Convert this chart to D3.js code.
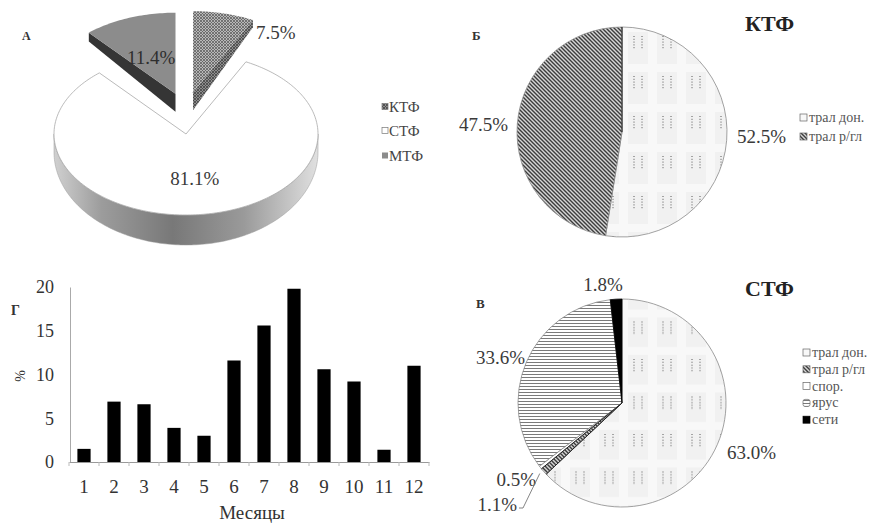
<!DOCTYPE html>
<html><head><meta charset="utf-8">
<script src="https://cdn.jsdelivr.net/npm/d3@7"></script>
<style>
body{margin:0;background:#fff}
svg{display:block}
text{font-family:"Liberation Serif","Times New Roman",serif}
</style>
</head><body>
<svg id="c" width="883" height="523"></svg>
<script>
// ---------- DATA ----------
const fleetNames = ["КТФ", "СТФ", "МТФ"];
const fleetShares = [7.5, 81.1, 11.4];
const ktfGears = ["трал дон.", "трал р/гл"];
const ktfShares = [52.5, 47.5];
const stfGears = ["трал дон.", "трал р/гл", "спор.", "ярус", "сети"];
const stfShares = [63.0, 1.1, 0.5, 33.6, 1.8];
const months = ["1","2","3","4","5","6","7","8","9","10","11","12"];
const monthShares = [1.5, 6.9, 6.6, 3.9, 3.0, 11.6, 15.6, 19.8, 10.6, 9.2, 1.4, 11.0];
const yTicks = [0, 5, 10, 15, 20];
const pct = d3.format(".1f");

const svg = d3.select("#c");
const defs = svg.append("defs");

// ---------- PATTERNS ----------
function pat(id, w, h, x, y) {
  return defs.append("pattern").attr("id", id).attr("patternUnits", "userSpaceOnUse")
    .attr("width", w).attr("height", h).attr("x", x || 0).attr("y", y || 0);
}
let p = pat("ktfTop", 3, 3);
p.append("rect").attr("width", 3).attr("height", 3).attr("fill", "#b8b8b8");
p.append("path").attr("d", "M0,0L3,3M3,0L0,3").attr("stroke", "#5f5f5f").attr("stroke-width", 0.8);
p = pat("ktfSide", 3, 3);
p.append("rect").attr("width", 3).attr("height", 3).attr("fill", "#8e8e8e");
p.append("path").attr("d", "M0,0L3,3M3,0L0,3").attr("stroke", "#444").attr("stroke-width", 0.8);

function donPattern(id, h, x, y) {
  const q = pat(id, 29, h, x, y);
  q.append("rect").attr("width", 29).attr("height", h).attr("fill", "#f1f1f1");
  q.append("rect").attr("x", 17).attr("width", 9).attr("height", h).attr("fill", "#f8f8f8");
  q.append("rect").attr("y", h - 12).attr("width", 29).attr("height", 8).attr("fill", "#f8f8f8");
  [3, 11].forEach(xx => q.append("line").attr("x1", xx).attr("x2", xx).attr("y1", 0).attr("y2", 14)
    .attr("stroke", "#555").attr("stroke-width", 1).attr("stroke-dasharray", "1 1.8"));
}
donPattern("donB", 40, 647, 64);
donPattern("donV", 37.5, 647, 331);
donPattern("donL", 29, 0, 0);

p = pat("rgl", 4, 4);
p.append("rect").attr("width", 4).attr("height", 4).attr("fill", "#d6d6d6");
p.append("path").attr("d", "M-1,-1L5,5M-1,3L1,5M3,-1L5,1").attr("stroke", "#3c3c3c").attr("stroke-width", 1.4);

p = pat("yarus", 6, 3);
p.append("rect").attr("width", 6).attr("height", 3).attr("fill", "#fff");
p.append("line").attr("x1", 0).attr("x2", 6).attr("y1", 1.5).attr("y2", 1.5).attr("stroke", "#7a7a7a").attr("stroke-width", 1);

const grad = defs.append("linearGradient").attr("id", "sideG").attr("x1", 0).attr("x2", 1).attr("y1", 0).attr("y2", 0);
[[0, "#d0d0d0"], [0.18, "#9c9c9c"], [0.45, "#787878"], [0.72, "#9a9a9a"], [1, "#e0e0e0"]]
  .forEach(([o, c]) => grad.append("stop").attr("offset", o).attr("stop-color", c));

// ---------- PANEL A: 3D exploded pie ----------
const A = {cx: 186, cy: 134, rx: 132, ry: 81, hc: 18, k: 12, ex: 30, ey: 43};
const arcsA = d3.pie().sort(null).value(d => d)(fleetShares);
const topFill = ["url(#ktfTop)", "#ffffff", "#8c8c8c"];
const sideFill = ["url(#ktfSide)", "url(#sideG)", "#353535"];
const explode = [true, false, true];

function tp(t, rr, o) { return [A.cx + o[0] + A.rx * rr * Math.sin(t), A.cy + o[1] - A.ry * rr * Math.cos(t)]; }
function bp(t, rr, o) { return [A.cx + o[0] + A.rx * rr * Math.sin(t), A.cy + o[1] + A.hc - (A.ry + A.k) * rr * Math.cos(t)]; }
function arcPts(f, a0, a1, o) {
  const n = Math.max(2, Math.ceil(Math.abs(a1 - a0) / 0.02));
  return d3.range(n + 1).map(i => f(a0 + (a1 - a0) * i / n, 1, o));
}
const line = d3.line();
const gA = svg.append("g");
const order = [0, 2, 1];
order.forEach(i => {
  const a = arcsA[i];
  const mid = (a.startAngle + a.endAngle) / 2;
  const o = explode[i] ? [Math.sin(mid) * A.ex, -Math.cos(mid) * A.ey] : [0, 0];
  const s = Math.max(a.startAngle, Math.PI / 2), e = Math.min(a.endAngle, 3 * Math.PI / 2);
  if (e > s) {
    const pts = arcPts(tp, s, e, o).concat(arcPts(bp, e, s, o));
    gA.append("path").attr("d", line(pts) + "Z").attr("fill", sideFill[i]).attr("stroke", "#9a9a9a").attr("stroke-width", 0.5);
  }
  [[a.startAngle, Math.sin(a.startAngle) < -1e-6], [a.endAngle, Math.sin(a.endAngle) > 1e-6]].forEach(([t, vis]) => {
    if (!vis) return;
    const pts = [tp(t, 0, o), tp(t, 1, o), bp(t, 1, o), bp(t, 0, o)];
    gA.append("path").attr("d", line(pts) + "Z").attr("fill", sideFill[i]).attr("stroke", "none");
  });
  const pts = [tp(0, 0, o)].concat(arcPts(tp, a.startAngle, a.endAngle, o));
  gA.append("path").attr("d", line(pts) + "Z").attr("fill", topFill[i])
    .attr("stroke", i === 1 ? "#a8a8a8" : "none").attr("stroke-width", 0.8);
});
const labA = [
  {i: 0, x: 256, y: 39, anchor: "start"},
  {i: 2, x: 127, y: 64, anchor: "start"},
  {i: 1, x: null, y: null, anchor: "middle"}
];
labA.forEach(l => {
  const a = arcsA[l.i];
  let x = l.x, y = l.y;
  if (x === null) { const m = tp((a.startAngle + a.endAngle) / 2, 0.55, [0, 0]); x = m[0]; y = m[1] + 7; }
  gA.append("text").attr("x", x).attr("y", y).attr("text-anchor", l.anchor)
    .attr("font-size", 19).attr("fill", l.i === 2 ? "#2e2e2e" : "#3a3a3a").text(pct(a.data) + "%");
});
svg.append("text").attr("x", 22).attr("y", 40).attr("font-size", 12).attr("font-weight", "bold").attr("fill", "#333").text("А");
const legAFill = ["url(#ktfSide)", "#fff", "#8c8c8c"];
fleetNames.forEach((n, i) => {
  const y = [107, 131, 156][i];
  svg.append("rect").attr("x", 382).attr("y", y - 3.5).attr("width", 6).attr("height", 6)
    .attr("fill", legAFill[i]).attr("stroke", i === 2 ? "none" : "#777").attr("stroke-width", 0.7);
  svg.append("text").attr("x", 389).attr("y", y + 5).attr("font-size", 15).attr("fill", "#444").text(n);
});

// ---------- PANEL Б ----------
const B = {cx: 622, cy: 132, r: 105};
const arcsB = d3.pie().sort(null).value(d => d)(ktfShares);
const arcGen = d3.arc().innerRadius(0);
const fillB = ["url(#donB)", "url(#rgl)"];
const gB = svg.append("g").attr("transform", `translate(${B.cx},${B.cy})`);
arcsB.forEach((a, i) => gB.append("path").attr("d", arcGen.outerRadius(B.r)(a)).attr("fill", fillB[i])
  .attr("stroke", "#8a8a8a").attr("stroke-width", 0.8));
gB.append("line").attr("x1", 0).attr("y1", 0).attr("x2", 0).attr("y2", -B.r).attr("stroke", "#222").attr("stroke-width", 1);
svg.append("text").attr("x", 737).attr("y", 143).attr("font-size", 19).attr("fill", "#3a3a3a").text(pct(ktfShares[0]) + "%");
svg.append("text").attr("x", 508).attr("y", 131).attr("text-anchor", "end").attr("font-size", 19).attr("fill", "#3a3a3a").text(pct(ktfShares[1]) + "%");
svg.append("text").attr("x", 745).attr("y", 31).attr("font-size", 22).attr("font-weight", "bold").attr("fill", "#222").text("КТФ");
svg.append("text").attr("x", 472).attr("y", 40).attr("font-size", 13).attr("font-weight", "bold").attr("fill", "#333").text("Б");
ktfGears.forEach((n, i) => {
  const y = [118, 137][i];
  svg.append("rect").attr("x", 800).attr("y", y - 4).attr("width", 7).attr("height", 7)
    .attr("fill", i === 0 ? "url(#donL)" : "url(#rgl)").attr("stroke", "#666").attr("stroke-width", 0.7);
  svg.append("text").attr("x", 809).attr("y", y + 4).attr("font-size", 14).attr("fill", "#555").text(n);
});

// ---------- PANEL В ----------
const V = {cx: 622, cy: 403, r: 104};
const arcsV = d3.pie().sort(null).value(d => d)(stfShares);
const fillV = ["url(#donV)", "url(#rgl)", "#ffffff", "url(#yarus)", "#000"];
const gV = svg.append("g").attr("transform", `translate(${V.cx},${V.cy})`);
arcsV.forEach((a, i) => gV.append("path").attr("d", arcGen.outerRadius(V.r)(a)).attr("fill", fillV[i])
  .attr("stroke", i === 4 ? "#000" : "#8a8a8a").attr("stroke-width", 0.8));
[arcsV[1].startAngle, arcsV[1].endAngle].forEach(t => gV.append("line").attr("x1", 0).attr("y1", 0)
  .attr("x2", V.r * Math.sin(t)).attr("y2", -V.r * Math.cos(t)).attr("stroke", "#222").attr("stroke-width", 1));
const labV = [
  {i: 0, x: 727, y: 459, anchor: "start"},
  {i: 1, x: 517, y: 511, anchor: "end"},
  {i: 2, x: 536, y: 486, anchor: "end"},
  {i: 3, x: 525, y: 364, anchor: "end"},
  {i: 4, x: 603, y: 291, anchor: "middle"}
];
labV.forEach(l => svg.append("text").attr("x", l.x).attr("y", l.y).attr("text-anchor", l.anchor)
  .attr("font-size", 19).attr("fill", "#3a3a3a").text(pct(stfShares[l.i]) + "%"));
(function () {
  const t = (arcsV[1].startAngle + arcsV[1].endAngle) / 2;
  const px = V.cx + V.r * Math.sin(t) - 4, py = V.cy - V.r * Math.cos(t) + 2;
  svg.append("path").attr("d", `M519,508L523,508L${px},${py}`).attr("fill", "none").attr("stroke", "#777").attr("stroke-width", 0.9);
})();
svg.append("text").attr("x", 745).attr("y", 296).attr("font-size", 22).attr("font-weight", "bold").attr("fill", "#222").text("СТФ");
svg.append("text").attr("x", 476).attr("y", 308).attr("font-size", 13).attr("font-weight", "bold").attr("fill", "#333").text("В");
const legVFill = ["url(#donL)", "url(#rgl)", "#fff", "url(#yarus)", "#000"];
stfGears.forEach((n, i) => {
  const y = 353 + i * 16.8;
  svg.append("rect").attr("x", 803).attr("y", y - 4).attr("width", 7).attr("height", 7)
    .attr("rx", i === 3 ? 2 : 0)
    .attr("fill", legVFill[i]).attr("stroke", i === 4 ? "#000" : "#666").attr("stroke-width", 0.7);
  svg.append("text").attr("x", 812).attr("y", y + 4).attr("font-size", 14).attr("fill", "#555").text(n);
});

// ---------- PANEL Г: bar chart ----------
const x = d3.scaleBand().domain(months).range([69, 429]).paddingInner(0.56).paddingOuter(0.28);
const y = d3.scaleLinear().domain([0, 20]).range([462, 287]);
const gG = svg.append("g");
gG.selectAll("rect.bar").data(monthShares).join("rect").attr("class", "bar")
  .attr("x", (d, i) => x(months[i])).attr("width", x.bandwidth())
  .attr("y", d => y(d)).attr("height", d => y(0) - y(d)).attr("fill", "#000");
const yAxis = gG.append("g").attr("transform", "translate(70,0)")
  .call(d3.axisLeft(y).tickValues(yTicks).tickSize(0).tickPadding(16));
yAxis.select(".domain").attr("stroke", "#aaa");
yAxis.selectAll("text").attr("font-size", 18).attr("fill", "#333").attr("font-family", "Liberation Serif");
const xAxis = gG.append("g").attr("transform", "translate(0,462)")
  .call(d3.axisBottom(x).tickSize(0).tickPadding(18));
xAxis.select(".domain").attr("stroke", "#999");
xAxis.selectAll("text").attr("font-size", 19).attr("fill", "#333").attr("font-family", "Liberation Serif");
d3.range(months.length + 1).forEach(i => {
  const xx = 69 + x.step() * i;
  gG.append("line").attr("x1", xx).attr("x2", xx).attr("y1", 462).attr("y2", 466).attr("stroke", "#bbb");
});
svg.append("text").attr("x", 252).attr("y", 519).attr("text-anchor", "middle").attr("font-size", 19).attr("fill", "#333").text("Месяцы");
svg.append("text").attr("transform", "translate(25,376) rotate(-90)").attr("text-anchor", "middle").attr("font-size", 14).attr("fill", "#333").text("%");
svg.append("text").attr("x", 11).attr("y", 315).attr("font-size", 14).attr("font-weight", "bold").attr("fill", "#333").text("Г");
</script>
</body></html>
